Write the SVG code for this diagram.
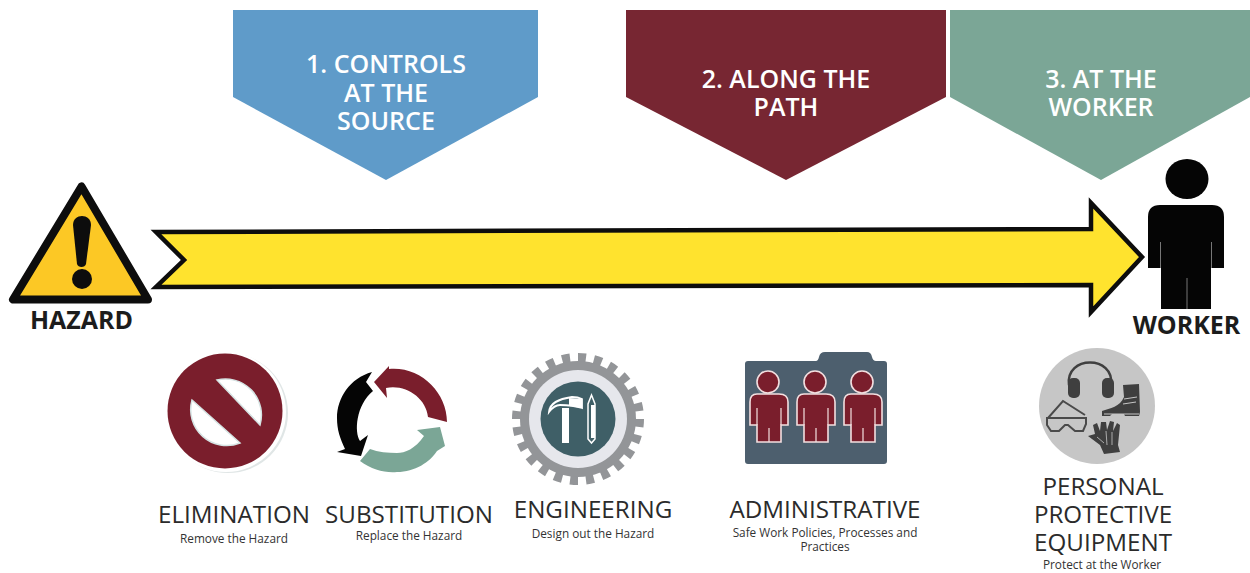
<svg xmlns="http://www.w3.org/2000/svg" width="1250" height="573" viewBox="0 0 1250 573">
<style>
text{font-family:"Open Sans","Liberation Sans",sans-serif;text-anchor:middle}
.ban{fill:#fff;font-size:25px;font-weight:600}
.big{fill:#2b2b2b;font-size:24.200px;font-weight:400}
.sub{fill:#333;font-size:11.800px}
.lab{fill:#1c1c1c;font-size:25px;font-weight:700}
.wm{fill:#7a1e2c;stroke:#f3dfe0;stroke-width:1.600}
.wl{stroke:#f3dfe0;stroke-width:1.200;fill:none}
.ppe{fill:#3f3f3f}
</style>
<rect width="1250" height="573" fill="#fff"/>
<g id="connectors">
<path d="M156,232 L1091,229 L1091,203 L1142,257 L1091,312 L1091,285 L156,287 L184,260 Z" fill="#ffe32e" stroke="#0d0d0d" stroke-width="4.500"/>
</g>
<g id="banner-source">
<path d="M233,10H538V97L386,180L233,97Z" fill="#5f9bc9"/>
<text class="ban" x="386" y="73">1. CONTROLS</text>
<text class="ban" x="386" y="102">AT THE</text>
<text class="ban" x="386" y="130">SOURCE</text>
</g>
<g id="banner-path">
<path d="M626,10H946V97L786,180L626,97Z" fill="#772632"/>
<text class="ban" x="786" y="88">2. ALONG THE</text>
<text class="ban" x="786" y="116">PATH</text>
</g>
<g id="banner-worker">
<path d="M950,10H1250V97L1101,180L950,97Z" fill="#7ba696"/>
<text class="ban" x="1101" y="88">3. AT THE</text>
<text class="ban" x="1101" y="116">WORKER</text>
</g>
<g id="hazard">
<path d="M81.500,186.500L13,299.500H148Z" fill="#fcc825" stroke="#0d0d0d" stroke-width="8" stroke-linejoin="round"/>
<path d="M73,225C73,213 91,213 91,225L86,264C85,268 78,268 77,264Z" fill="#0d0d0d"/>
<circle cx="82" cy="279" r="10" fill="#0d0d0d"/>
<text class="lab" x="81.500" y="329">HAZARD</text>
</g>
<g id="worker">
<ellipse cx="1187" cy="179" rx="21.500" ry="20" fill="#050505"/>
<path d="M1160,205H1212Q1224,205 1224,217V268H1211V309H1161V268H1148V217Q1148,205 1160,205Z" fill="#050505"/>
<path d="M1160.500,242V268M1211.500,242V268M1187,278V309" stroke="#777" stroke-width="1" fill="none"/>
<text class="lab" x="1186.500" y="334">WORKER</text>
</g>
<g id="elimination">
<circle cx="228" cy="413" r="60" fill="#e0e6e6"/>
<circle cx="226" cy="412" r="60" fill="#fff"/>
<circle cx="225" cy="411" r="57.500" fill="#7a1e2c"/>
<path d="M217,380L260,425A36,36 0 0 0 217,380Z" fill="#fff" stroke="#d5e3e3" stroke-width="1.500"/>
<path d="M192,400L240,443A36,36 0 0 1 192,400Z" fill="#fff" stroke="#d5e3e3" stroke-width="1.500"/>
<text class="big" x="234" y="523">ELIMINATION</text>
<text class="sub" x="234" y="543">Remove the Hazard</text>
</g>
<g id="substitution">
<path d="M389,366L374,382L387,398L386,388C406,384 426,398 428,417L447,422C447,392 420,366 389,369Z" fill="#7a1e2c"/>
<path d="M372,372C350,378 337,398 337,418C337,430 340,438 345,449L337,452L361,456L368,435L360,441C354,432 356,405 373,391L366,382Z" fill="#050505"/>
<path d="M360,461C372,470 385,473 397,472C415,472 430,462 437,451L445,446L440,427L417,430L424,436C415,449 405,453 397,453C388,453 378,452 370,449Z" fill="#7ba696"/>
<text class="big" x="409" y="523">SUBSTITUTION</text>
<text class="sub" x="409" y="540">Replace the Hazard</text>
</g>
<g id="engineering">
<circle cx="578" cy="419" r="61" fill="none" stroke="#939598" stroke-width="10" pathLength="48" stroke-dasharray="1 1"/>
<circle cx="578" cy="419" r="58" fill="#939598"/>
<circle cx="578" cy="419" r="49" fill="#e6e7ec"/>
<circle cx="578" cy="419" r="37.500" fill="#3f5f67"/>
<path d="M562,408V443H569V408Z" fill="#fff"/>
<path d="M549,412C550,403 558,399 572,397C576,397 580,398 582,399V408C576,406 570,405 560,405C555,405 552,408 549,412Z" fill="none" stroke="#fff" stroke-width="1.800"/>
<path d="M569,398L582,399V408L569,406Z" fill="#fff"/>
<path d="M591.500,395L595,404V439L591.500,443L588,439V404Z" fill="none" stroke="#fff" stroke-width="1.500"/>
<path d="M591,405H595V438H591Z" fill="#fff"/>
<text class="big" x="593" y="518">ENGINEERING</text>
<text class="sub" x="593" y="538">Design out the Hazard</text>
</g>
<g id="administrative">
<path d="M748,361H816Q818,361 819,357Q820,352 825,352H867Q871,352 872,357Q873,361 876,361H884Q887,361 887,364V461Q887,464 884,464H748Q745,464 745,461V364Q745,361 748,361Z" fill="#4d5f6e"/>
<g id="admin-person-1"><circle class="wm" cx="768" cy="382" r="11"/><path class="wm" d="M757,394H779Q788,394 788,402V425H781V442H757V425H750V402Q750,394 757,394Z"/><path class="wl" d="M757,408V425M781,408V425M769,428V442"/></g>
<g id="admin-person-2"><circle class="wm" cx="815" cy="382" r="11"/><path class="wm" d="M804,394H826Q835,394 835,402V425H828V442H804V425H797V402Q797,394 804,394Z"/><path class="wl" d="M804,408V425M828,408V425M816,428V442"/></g>
<g id="admin-person-3"><circle class="wm" cx="862" cy="382" r="11"/><path class="wm" d="M851,394H873Q882,394 882,402V425H875V442H851V425H844V402Q844,394 851,394Z"/><path class="wl" d="M851,408V425M875,408V425M863,428V442"/></g>
<text class="big" x="825" y="518">ADMINISTRATIVE</text>
<text class="sub" x="825" y="537">Safe Work Policies, Processes and</text>
<text class="sub" x="825" y="551">Practices</text>
</g>
<g id="ppe">
<circle cx="1097" cy="406" r="58" fill="#c6c6c6"/>
<path d="M1069,385C1065,355 1115,355 1111,385" fill="none" stroke="#3f3f3f" stroke-width="2.500"/>
<rect class="ppe" x="1068" y="378" width="12" height="20" rx="5"/>
<rect class="ppe" x="1102" y="378" width="12" height="20" rx="5"/>
<path class="ppe" d="M1123,385L1139,384L1140,412L1139,416H1125L1124,414H1112L1110,416H1102V411C1110,408 1120,407 1124,397Z"/>
<path d="M1124,399L1137,397M1123,404L1136,402M1104,414H1139" fill="none" stroke="#c6c6c6" stroke-width="1"/>
<path d="M1048,418L1063,401L1085,415M1047,418H1086V424L1083,431H1075L1068,425H1065L1059,431H1051L1047,425Z" fill="none" stroke="#4a4a4a" stroke-width="2"/>
<path class="ppe" d="M1088,436L1095,434L1093,425L1097,423L1100,431L1101,422H1106L1107,430L1110,421L1114,422L1113,431L1117,423L1120,425L1118,445L1120,452L1104,454L1100,445Z"/>
<path d="M1097,437L1104,443M1106,431L1107,445M1112,432L1112,445" fill="none" stroke="#c6c6c6" stroke-width="0.800"/>
<text class="big" x="1103" y="495">PERSONAL</text>
<text class="big" x="1103" y="523">PROTECTIVE</text>
<text class="big" x="1103" y="551">EQUIPMENT</text>
<text class="sub" x="1102" y="569">Protect at the Worker</text>
</g>
</svg>
